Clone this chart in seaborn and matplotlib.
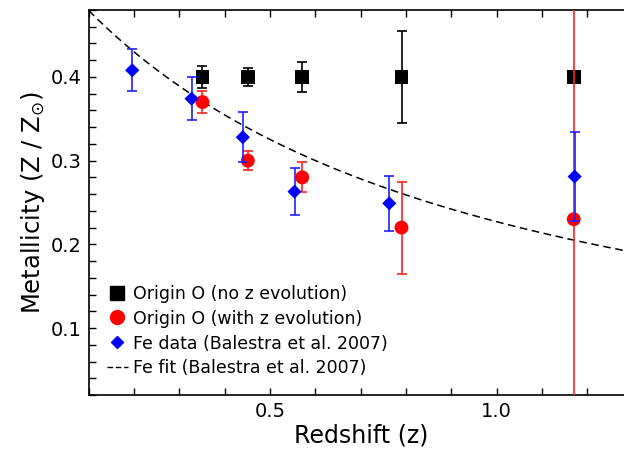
import numpy as np
import pandas as pd
import matplotlib
matplotlib.use("Agg")
import matplotlib.pyplot as plt
import seaborn as sns
from matplotlib.lines import Line2D
from matplotlib.ticker import MultipleLocator, FormatStrFormatter

# Origin O (no z evolution)
z_noevo = [0.351, 0.451, 0.570, 0.790, 1.170]
m_noevo = [0.400, 0.400, 0.400, 0.400, 0.400]
e_noevo = [0.013, 0.011, 0.018, 0.055, 0.0]

# Origin O (with z evolution)
z_evo = [0.351, 0.451, 0.571, 0.790, 1.170]
m_evo = [0.370, 0.300, 0.280, 0.220, 0.230]
e_evo = [0.013, 0.011, 0.018, 0.055, 0.60]

# Fe data (Balestra et al. 2007)
z_fe = [0.196, 0.327, 0.440, 0.554, 0.763, 1.172]
m_fe = [0.408, 0.374, 0.328, 0.263, 0.249, 0.281]
e_fe = [0.025, 0.026, 0.030, 0.028, 0.033, 0.053]

# Fe fit (Balestra et al. 2007): Z = norm * (1+z)^(-slope)
fit_norm = 0.54
fit_slope = 1.25

labels = ["Origin O (no z evolution)", "Origin O (with z evolution)",
          "Fe data (Balestra et al. 2007)", "Fe fit (Balestra et al. 2007)"]

sns.set_style("ticks")
plt.rcParams['font.family'] = ['DejaVu Sans']
plt.rcParams['mathtext.fontset'] = 'dejavusans'
plt.rcParams['text.color'] = 'black'
plt.rcParams['axes.labelcolor'] = 'black'

fig = plt.figure(figsize=(6.24, 4.49), dpi=100)
ax = fig.add_axes([88.7 / 624, 1 - 395 / 449, 544 / 624, 385 / 449])

# fit curve
zz = np.linspace(0.1, 1.3, 300)
fit_df = pd.DataFrame({"z": zz, "m": fit_norm * (1 + zz) ** (-fit_slope)})
sns.lineplot(data=fit_df, x="z", y="m", ax=ax, color="black", lw=1.1,
             linestyle=(0, (5, 3)), zorder=1)

df_noevo = pd.DataFrame({"z": z_noevo, "m": m_noevo})
df_evo = pd.DataFrame({"z": z_evo, "m": m_evo})
df_fe = pd.DataFrame({"z": z_fe, "m": m_fe})

ax.errorbar(z_noevo, m_noevo, yerr=e_noevo, fmt="none", ecolor="black",
            elinewidth=1.2, capsize=3.5, capthick=1.2, zorder=2)
sns.scatterplot(data=df_noevo, x="z", y="m", ax=ax, marker="s", s=100,
                color="black", edgecolor="none", zorder=3)
ax.errorbar(z_evo, m_evo, yerr=e_evo, fmt="none", ecolor="#ff2020",
            elinewidth=1.2, capsize=3.5, capthick=1.2, zorder=4)
sns.scatterplot(data=df_evo, x="z", y="m", ax=ax, marker="o", s=100,
                color="red", edgecolor="none", zorder=5)
ax.errorbar(z_fe, m_fe, yerr=e_fe, fmt="none", ecolor="#2020ff",
            elinewidth=1.2, capsize=3.5, capthick=1.2, zorder=6)
sns.scatterplot(data=df_fe, x="z", y="m", ax=ax, marker="D", s=52,
                color="blue", edgecolor="none", zorder=7)

ax.set_xlim(0.1, 1.3)
ax.set_ylim(0.02, 0.48)
ax.xaxis.set_major_locator(MultipleLocator(0.5))
ax.xaxis.set_minor_locator(MultipleLocator(0.1))
ax.yaxis.set_major_locator(MultipleLocator(0.1))
ax.yaxis.set_minor_locator(MultipleLocator(0.02))
ax.xaxis.set_major_formatter(FormatStrFormatter("%.1f"))
ax.yaxis.set_major_formatter(FormatStrFormatter("%.1f"))
ax.tick_params(which="both", direction="in", top=True, right=False,
               labelsize=14, width=1.0, colors="black", pad=5)
ax.tick_params(which="major", length=5)
ax.tick_params(which="minor", length=5)
for s in ax.spines.values():
    s.set_linewidth(1.2)
    s.set_color("black")

ax.set_xlabel("Redshift (z)", fontsize=17, labelpad=2)
ax.set_ylabel(r"Metallicity (Z / Z$_{\odot}$)", fontsize=17.5, labelpad=3)

handles = [
    Line2D([], [], marker="s", color="black", ls="none", ms=10),
    Line2D([], [], marker="o", color="red", ls="none", ms=10),
    Line2D([], [], marker="D", color="blue", ls="none", ms=6.5),
    Line2D([], [], color="black", ls=(0, (4, 2)), lw=1.0),
]
ax.legend(handles, labels, loc="lower left", frameon=False, fontsize=12.5,
          handlelength=1.2, handletextpad=0.3, labelspacing=0.4,
          bbox_to_anchor=(0.005, 0.005))

fig.savefig("out.png", dpi=100)
